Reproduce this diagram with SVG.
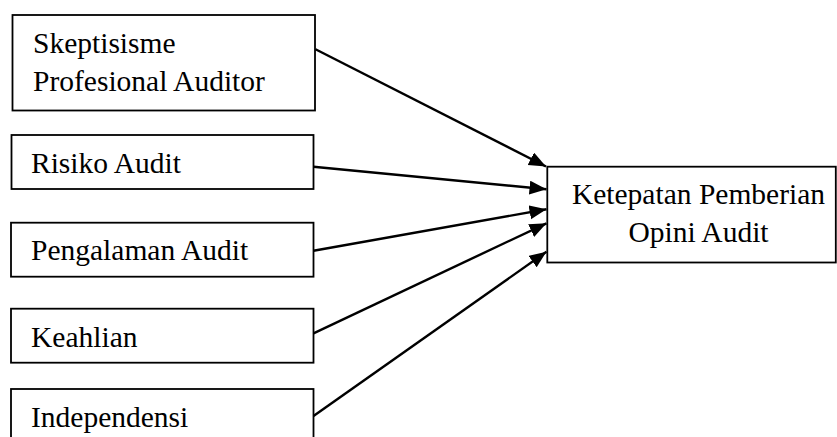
<svg xmlns="http://www.w3.org/2000/svg" width="837" height="437" viewBox="0 0 837 437">
<defs>
<style>
.box{fill:#fff;stroke:#000;stroke-width:1.8}
.lbl{font-family:"Liberation Serif","Times New Roman",serif;font-size:29.5px;fill:#000}
.edge{stroke:#000;stroke-width:2.4;fill:none;marker-end:url(#ah)}
</style>
<marker id="ah" markerUnits="userSpaceOnUse" markerWidth="18" markerHeight="15" refX="17" refY="7" orient="auto">
<path d="M0,0 L17,7 L0,14 z" fill="#000"/>
</marker>
</defs>
<rect width="837" height="437" fill="#fff"/>
<g id="n1"><rect class="box" x="12.5" y="15" width="302.5" height="95.5"/><text class="lbl" x="33" y="53.3">Skeptisisme</text><text class="lbl" x="33" y="90.5">Profesional Auditor</text></g>
<g id="n2"><rect class="box" x="11.5" y="135" width="302" height="54"/><text class="lbl" x="31" y="173">Risiko Audit</text></g>
<g id="n3"><rect class="box" x="11" y="222.7" width="302.5" height="54"/><text class="lbl" x="31" y="260">Pengalaman Audit</text></g>
<g id="n4"><rect class="box" x="11" y="308.7" width="302.5" height="54"/><text class="lbl" x="31" y="347">Keahlian</text></g>
<g id="n5"><rect class="box" x="11" y="389" width="302.5" height="60"/><text class="lbl" x="31" y="427">Independensi</text></g>
<g id="n6"><rect class="box" x="547.3" y="166.7" width="288.5" height="95.8"/><text class="lbl" x="698.5" y="204.3" text-anchor="middle">Ketepatan Pemberian</text><text class="lbl" x="698.5" y="241.7" text-anchor="middle">Opini Audit</text></g>
<g id="edges">
<line class="edge" x1="315.5" y1="49.3" x2="546" y2="166.5"/>
<line class="edge" x1="313.5" y1="166.7" x2="546.5" y2="189.3"/>
<line class="edge" x1="313.5" y1="250.7" x2="546.5" y2="209.3"/>
<line class="edge" x1="313.5" y1="333.3" x2="546.5" y2="223.3"/>
<line class="edge" x1="313.5" y1="416" x2="546.5" y2="251.7"/>
</g>
</svg>
